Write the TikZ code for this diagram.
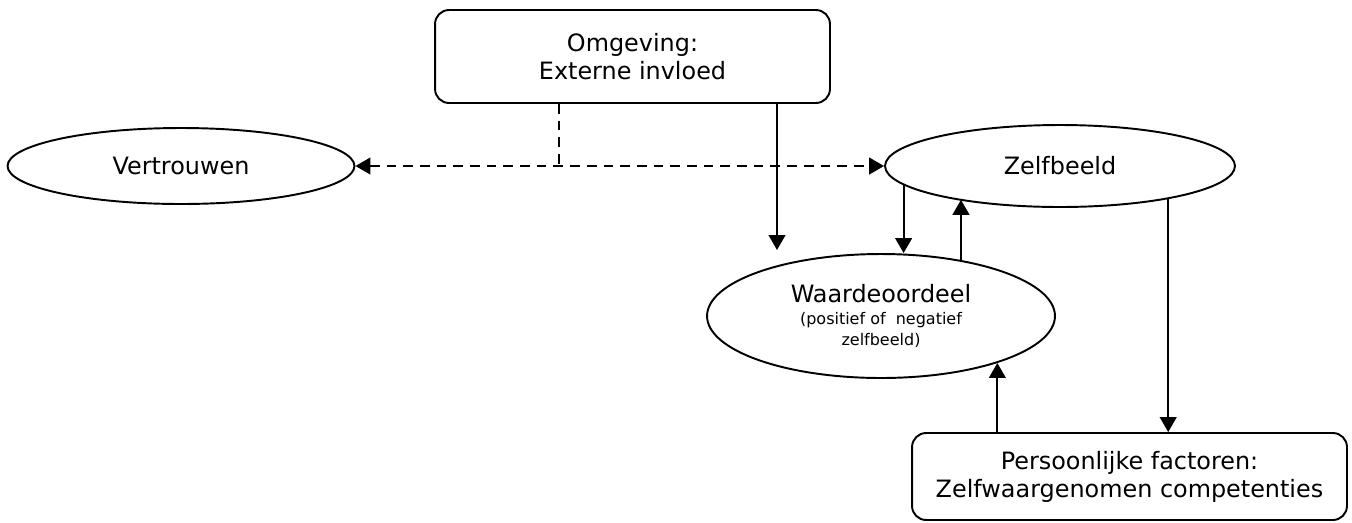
\documentclass[tikz,border=0pt]{standalone}
\usepackage{fontspec}
\setmainfont{DejaVu Sans}
\usetikzlibrary{shapes.geometric}
\usetikzlibrary{arrows.meta}

\begin{document}
\begin{tikzpicture}[x=0.02cm, y=-0.02cm, line width=1.1pt,
>={Triangle[length=8.5pt,width=9.5pt]},
factor/.style={draw, ellipse, inner sep=0pt, align=center, font=\fontsize{13.6}{16}\selectfont},
source/.style={draw, rectangle, rounded corners=8pt, inner sep=0pt, align=center, font=\fontsize{13.6}{16}\selectfont},
influence/.style={->},
indirect/.style={dashed, dash pattern=on 5.5pt off 4pt}]
\useasboundingbox (0,0) rectangle (1352,522);
\node [source, minimum width=7.9cm, minimum height=1.86cm] (om) at (632.5,56.5) {Omgeving:\\Externe invloed};
\node [factor, minimum width=6.94cm, minimum height=1.52cm] (vt) at (181,166) {Vertrouwen};
\node [factor, minimum width=7cm, minimum height=1.64cm] (zb) at (1060,166) {Zelfbeeld};
\node [factor, minimum width=6.96cm, minimum height=2.48cm] (wo) at (881,316) {Waardeoordeel\\[-3pt]{\fontsize{9.1}{10.5}\selectfont (positief of~ negatief}\\[-4pt]{\fontsize{9.1}{10.5}\selectfont zelfbeeld)}};
\node [source, minimum width=8.7cm, minimum height=1.74cm] (pf) at (1129.5,476.5) {Persoonlijke factoren:\\Zelfwaargenomen competenties};
\coordinate (split) at (559,165);
\coordinate (ext) at (777,250);
\draw [indirect] (split |- om.south) -- (split);
\draw [indirect, <->] (vt.east) -- (zb.west);
\draw [influence] (ext |- om.south) -- (ext);
\draw [influence] (zb.187) -- (zb.187 |- wo.north);
\draw [influence] (wo.35) -- (wo.35 |- zb.198);
\draw [influence] (zb.343) -- (zb.343 |- pf.north);
\draw [influence] (wo.338 |- pf.north) -- (wo.338);
\end{tikzpicture}
\end{document}
